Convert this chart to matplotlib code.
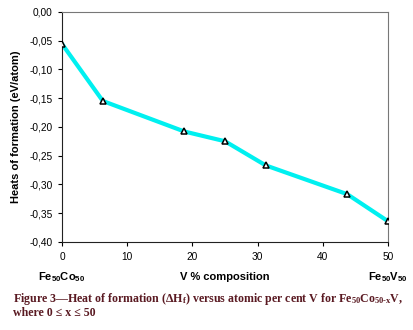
import matplotlib
matplotlib.use("Agg")
import matplotlib.pyplot as plt
from matplotlib.ticker import FuncFormatter

plt.rcParams["mathtext.fontset"] = "custom"
plt.rcParams["mathtext.rm"] = "Liberation Serif:bold"
plt.rcParams["mathtext.it"] = "Liberation Serif:bold:italic"
plt.rcParams["mathtext.sf"] = "Liberation Sans:bold"

# V content (at.%) and heat of formation (eV/atom)
v_percent = [0, 6.25, 18.75, 25, 31.25, 43.75, 50]
heat_formation = [-0.056, -0.155, -0.208, -0.225, -0.267, -0.317, -0.364]
y_ticks = [0.0, -0.05, -0.10, -0.15, -0.20, -0.25, -0.30, -0.35, -0.40]
x_ticks = [0, 10, 20, 30, 40, 50]

fig = plt.figure(figsize=(4.14, 3.30), dpi=100)
ax = fig.add_axes([0.150, 0.267, 0.787, 0.697])

ax.plot(v_percent, heat_formation, color="#00f0f0", lw=3, zorder=2)
ax.plot(v_percent, heat_formation, ls="none", marker="^", ms=4.5,
        mfc="white", mec="black", mew=1.1, zorder=3)

ax.set_xlim(0, 50)
ax.set_ylim(-0.40, 0.0)
ax.set_xticks(x_ticks)
ax.set_yticks(y_ticks)
ax.yaxis.set_major_formatter(FuncFormatter(lambda v, p: ("%.2f" % v).replace(".", ",")))
ax.tick_params(direction="out", length=3, width=0.8, labelsize=7.3, pad=4)
for lab in ax.get_xticklabels() + ax.get_yticklabels():
    lab.set_family("Liberation Sans")

for s in ["left", "bottom"]:
    ax.spines[s].set_color("#222222")
for s in ["top", "right"]:
    ax.spines[s].set_color("#777777")

ax.set_ylabel("Heats of formation (eV/atom)", fontsize=8, fontweight="bold",
              family="Liberation Sans", labelpad=6)

lab_kw = dict(fontsize=8, fontweight="bold", family="Liberation Sans", ha="center", va="center")
fig.text(0.150, 0.160, r"$\mathsf{Fe}_{\mathsf{50}}\mathsf{Co}_{\mathsf{50}}$", **lab_kw)
fig.text(0.543, 0.160, "V % composition", **lab_kw)
fig.text(0.937, 0.160, r"$\mathsf{Fe}_{\mathsf{50}}\mathsf{V}_{\mathsf{50}}$", **lab_kw)

cap_color = "#5a1a22"
cap_kw = dict(fontsize=8.6, fontweight="bold", family="Liberation Serif", color=cap_color, va="center")
fig.text(0.032, 0.094,
         r"Figure 3—Heat of formation ($\Delta\mathrm{H}_{\mathrm{f}}$) versus atomic per cent V for "
         r"$\mathrm{Fe}_{\mathrm{50}}\mathrm{Co}_{\mathrm{50\text{-}x}}\mathrm{V}$,", **cap_kw)
fig.text(0.032, 0.052, "where 0 ≤ x ≤ 50", **cap_kw)

fig.savefig("out.png", dpi=100)
